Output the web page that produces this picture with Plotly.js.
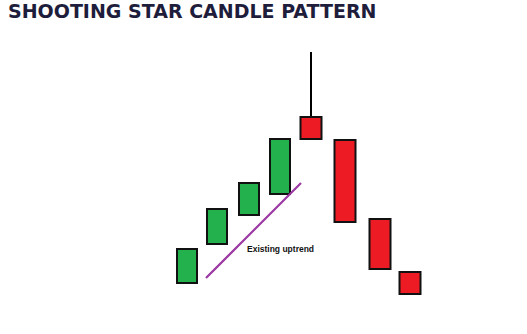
<!DOCTYPE html>
<html>
<head>
<meta charset="utf-8">
<script src="https://cdn.plot.ly/plotly-3.0.1.min.js"></script>
<style>html,body{margin:0;padding:0;background:#fff}#chart{width:527px;height:334px}</style>
</head>
<body>
<div id="chart"></div>
<script>
// Candle positions (time axis) and prices
var candleX = [187, 217, 249, 280, 311, 345, 380, 410];
var openP  = [51, 90, 119, 140, 217, 194, 115, 62];
var closeP = [85, 125, 151, 195, 195, 112, 65, 40];
var highP  = [85, 125, 151, 195, 282, 194, 115, 62];
var lowP   = [51, 90, 119, 140, 195, 112, 65, 40];
// Trend line
var trendX = [206, 301];
var trendY = [56, 151];
var trendLabel = "Existing uptrend";
var titleText = "SHOOTING STAR CANDLE PATTERN";

(function(){
var gx=[],gb=[],gh=[],rx=[],rb=[],rh=[];
for (var i=0;i<candleX.length;i++){
  var lo=Math.min(openP[i],closeP[i]), hi=Math.max(openP[i],closeP[i]);
  if (closeP[i]>=openP[i]) {gx.push(candleX[i]);gb.push(lo);gh.push(hi-lo);}
  else {rx.push(candleX[i]);rb.push(lo);rh.push(hi-lo);}
}
var traces=[
  {type:'bar',x:gx,y:gh,base:gb,width:20,marker:{color:'#22b14c',line:{color:'#111',width:2}}},
  {type:'bar',x:rx,y:rh,base:rb,width:21,marker:{color:'#ed1c24',line:{color:'#111',width:2}}},
  {type:'scatter',mode:'lines',x:trendX,y:trendY,line:{color:'#9a36a0',width:2.2},hoverinfo:'skip'}
];
for (var j=0;j<candleX.length;j++){
  var bodyTop=Math.max(openP[j],closeP[j]), bodyBot=Math.min(openP[j],closeP[j]);
  if (highP[j]>bodyTop) traces.push({type:'scatter',mode:'lines',x:[candleX[j],candleX[j]],y:[bodyTop+1,highP[j]],line:{color:'#000',width:2},hoverinfo:'skip'});
  if (lowP[j]<bodyBot) traces.push({type:'scatter',mode:'lines',x:[candleX[j],candleX[j]],y:[lowP[j],bodyBot-1],line:{color:'#000',width:2},hoverinfo:'skip'});
}
var layout={
  width:527,height:334,margin:{l:0,r:0,t:0,b:0},
  paper_bgcolor:'#fff',plot_bgcolor:'#fff',showlegend:false,barmode:'overlay',
  xaxis:{range:[0,527],visible:false,fixedrange:true},
  yaxis:{range:[0,334],visible:false,fixedrange:true},
  title:{text:titleText,x:8/527,xanchor:'left',xref:'paper',y:1-11/334,yanchor:'middle',yref:'container',
    font:{family:'DejaVu Sans, sans-serif',size:19,weight:'bold',color:'#1e1d3b'}},
  annotations:[{x:245,y:85,xanchor:'left',yanchor:'middle',text:'<b>'+trendLabel+'</b>',showarrow:false,
    font:{family:'Liberation Sans, Arial, sans-serif',size:8.5,color:'#111'}}]
};
Plotly.newPlot('chart',traces,layout,{displayModeBar:false,staticPlot:true});
})();
</script>
</body>
</html>
